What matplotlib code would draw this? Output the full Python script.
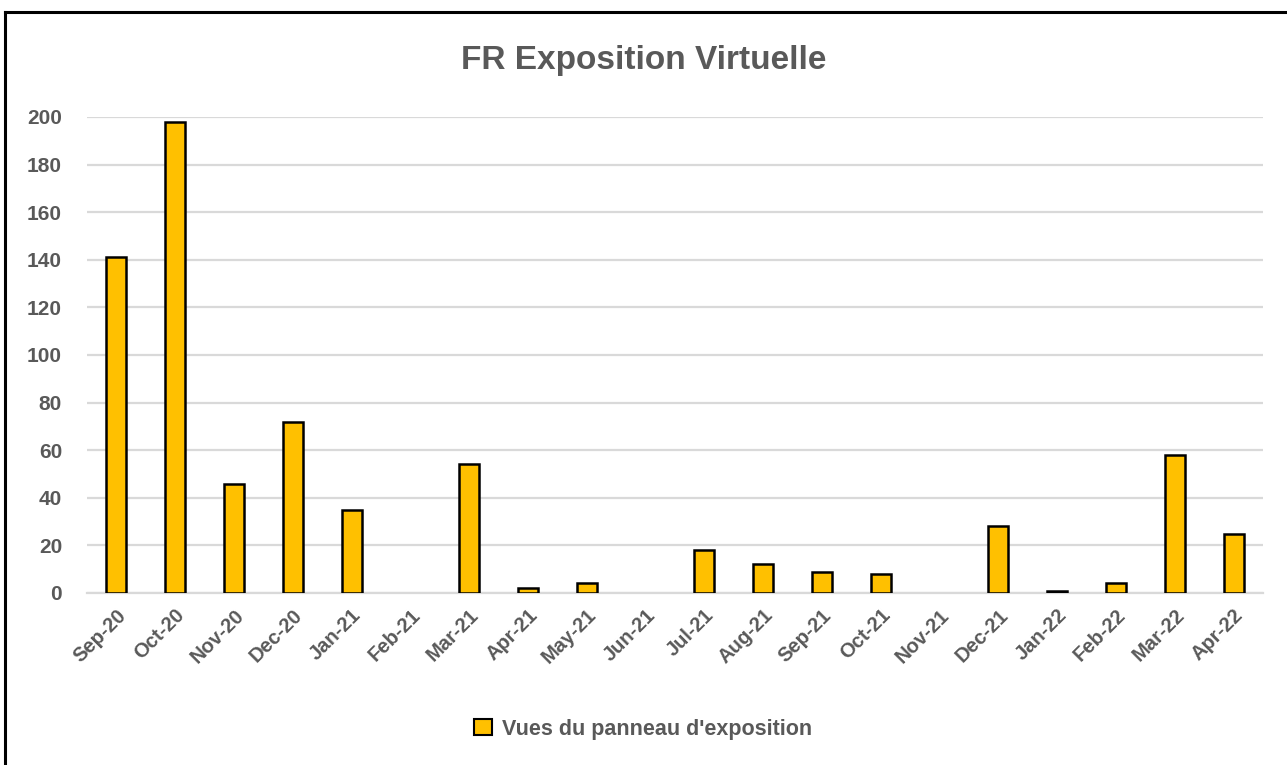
import matplotlib.pyplot as plt
from matplotlib.lines import Line2D
from matplotlib.patches import Patch
import numpy as np

plt.rcParams['font.family'] = ['Liberation Sans', 'DejaVu Sans']

# données
months = ['Sep-20', 'Oct-20', 'Nov-20', 'Dec-20', 'Jan-21', 'Feb-21', 'Mar-21',
          'Apr-21', 'May-21', 'Jun-21', 'Jul-21', 'Aug-21', 'Sep-21', 'Oct-21',
          'Nov-21', 'Dec-21', 'Jan-22', 'Feb-22', 'Mar-22', 'Apr-22']
views = [141, 198, 46, 72, 35, 0, 54, 2, 4, 0, 18, 12, 9, 8, 0, 28, 1, 4, 58, 25]
yticks = [0, 20, 40, 60, 80, 100, 120, 140, 160, 180, 200]

BAR_COLOR = '#FFC000'
TEXT_COLOR = '#595959'
GRID_COLOR = '#D9D9D9'

W, H = 1287, 765
fig = plt.figure(figsize=(W / 100, H / 100), dpi=100)
fig.patch.set_facecolor('white')

# zone de tracé
left, right = 87 / W, 1263 / W
top, bottom = 1 - 117 / H, 1 - 593 / H
ax = fig.add_axes([left, bottom, right - left, top - bottom])

x = np.arange(len(months))
# pas de contour pour les valeurs nulles (comme dans Excel)
lw = [1.8 if v > 0 else 0 for v in views]
ax.bar(x, views, width=0.34, color=BAR_COLOR, edgecolor='black', linewidth=lw, zorder=3)

ax.set_xlim(-0.5, len(months) - 0.5)
ax.set_ylim(0, 200)
ax.set_yticks(yticks)
ax.set_yticklabels([str(v) for v in yticks], fontsize=15, fontweight='bold', color=TEXT_COLOR)
ax.set_xticks(x)
ax.set_xticklabels(months, rotation=45, ha='right', rotation_mode='anchor',
                   fontsize=14.5, fontweight='bold', color=TEXT_COLOR)
ax.tick_params(axis='both', length=0)
ax.tick_params(axis='y', pad=18)
ax.tick_params(axis='x', pad=9)

ax.grid(axis='y', color=GRID_COLOR, linewidth=1.6, zorder=0)
ax.set_axisbelow(True)
for s in ['top', 'right', 'left']:
    ax.spines[s].set_visible(False)
ax.spines['bottom'].set_color(GRID_COLOR)
ax.spines['bottom'].set_linewidth(1.6)

# titre
fig.text(0.5, 1 - 60 / H, 'FR Exposition Virtuelle', ha='center', va='center',
         fontsize=24, fontweight='bold', color=TEXT_COLOR)

# légende
handle = Patch(facecolor=BAR_COLOR, edgecolor='black', linewidth=1.5)
fig.legend([handle], ["Vues du panneau d'exposition"], loc='center',
           bbox_to_anchor=(0.5, 1 - 729 / H), frameon=False,
           prop={'size': 15.5, 'weight': 'bold'}, labelcolor=TEXT_COLOR,
           handlelength=0.8, handleheight=0.8, handletextpad=0.5)

# bordure extérieure
fig.add_artist(Line2D([5 / W, 1], [1 - 12 / H, 1 - 12 / H], color='black', linewidth=2.2,
                      transform=fig.transFigure))
fig.add_artist(Line2D([5 / W, 5 / W], [0, 1 - 12 / H], color='black', linewidth=2.2,
                      transform=fig.transFigure))

fig.savefig('out.png', dpi=100, facecolor='white')
